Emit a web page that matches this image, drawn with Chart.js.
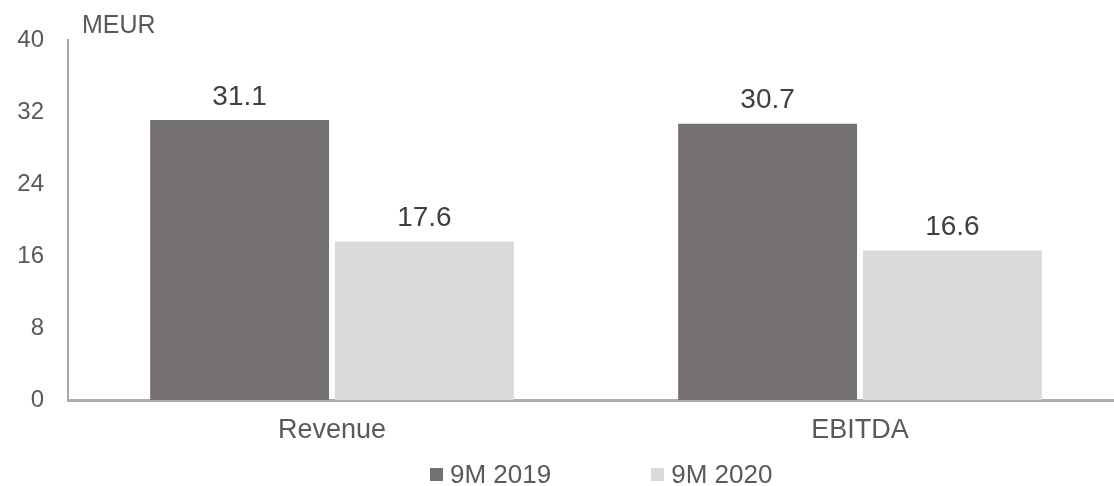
<!DOCTYPE html>
<html>
<head>
<meta charset="utf-8">
<script src="https://cdn.jsdelivr.net/npm/chart.js@4.4.1/dist/chart.umd.min.js"></script>
<style>
  html, body { margin: 0; padding: 0; background: #fff; overflow: hidden; }
  #wrap { position: relative; width: 1114px; height: 486px; overflow: hidden; }
  #chart { position: absolute; left: 0; top: 0; }
  #unit { position: absolute; left: 82px; top: 10px; font: 25px "Liberation Sans", Arial, sans-serif; color: #595959; }
  #legend { position: absolute; top: 459px; left: 430px; display: flex; font: 26px "Liberation Sans", Arial, sans-serif; color: #595959; }
  #legend .item { display: flex; align-items: center; margin-right: 100px; }
  #legend .box { width: 13px; height: 13px; margin-right: 7px; }
</style>
</head>
<body>
<div id="wrap">
  <canvas id="chart" width="1126" height="486"></canvas>
  <div id="unit">MEUR</div>
  <div id="legend"></div>
</div>
<script>
const categories = ['Revenue', 'EBITDA'];
const seriesNames = ['9M 2019', '9M 2020'];
const values2019 = [31.1, 30.7];
const values2020 = [17.6, 16.6];
const yTicks = [0, 8, 16, 24, 32, 40];

const colors = ['#767171', '#d9d9d9'];
const font = '"Liberation Sans", Arial, sans-serif';

// value labels above each bar
const barLabels = {
  id: 'barLabels',
  afterDatasetsDraw(chart) {
    const ctx = chart.ctx;
    ctx.save();
    ctx.font = '28px ' + font;
    ctx.fillStyle = '#404040';
    ctx.textAlign = 'center';
    ctx.textBaseline = 'bottom';
    chart.data.datasets.forEach((ds, i) => {
      chart.getDatasetMeta(i).data.forEach((bar, j) => {
        ctx.fillText(ds.data[j].toFixed(1), bar.x, bar.y - 9);
      });
    });
    ctx.restore();
  }
};

const chart = new Chart(document.getElementById('chart').getContext('2d'), {
  type: 'bar',
  data: {
    labels: categories,
    datasets: [
      { label: seriesNames[0], data: values2019, backgroundColor: colors[0] },
      { label: seriesNames[1], data: values2020, backgroundColor: colors[1] }
    ]
  },
  options: {
    responsive: false,
    animation: false,
    layout: { padding: { top: 40, right: 2, left: 0, bottom: 0 } },
    datasets: { bar: { categoryPercentage: 0.70, barPercentage: 0.968 } },
    plugins: { legend: { display: false }, tooltip: { enabled: false } },
    scales: {
      x: {
        grid: { display: false, drawTicks: false },
        border: { display: true, color: '#aeaaaa', width: 3 },
        ticks: { color: '#595959', font: { family: font, size: 27 }, padding: 14 },
        afterFit(scale) { scale.height = 86; }
      },
      y: {
        min: yTicks[0],
        max: yTicks[yTicks.length - 1],
        afterBuildTicks(scale) { scale.ticks = yTicks.map(v => ({ value: v })); },
        grid: { display: false, drawTicks: false },
        border: { display: true, color: '#a6a6a6', width: 2 },
        ticks: { color: '#595959', font: { family: font, size: 24 }, padding: 24 },
        afterFit(scale) { scale.width = 68; }
      }
    }
  },
  plugins: [barLabels]
});

// legend below the plot
const legend = document.getElementById('legend');
chart.data.datasets.forEach(ds => {
  const item = document.createElement('div');
  item.className = 'item';
  const box = document.createElement('span');
  box.className = 'box';
  box.style.background = ds.backgroundColor;
  item.appendChild(box);
  item.appendChild(document.createTextNode(ds.label));
  legend.appendChild(item);
});
</script>
</body>
</html>
